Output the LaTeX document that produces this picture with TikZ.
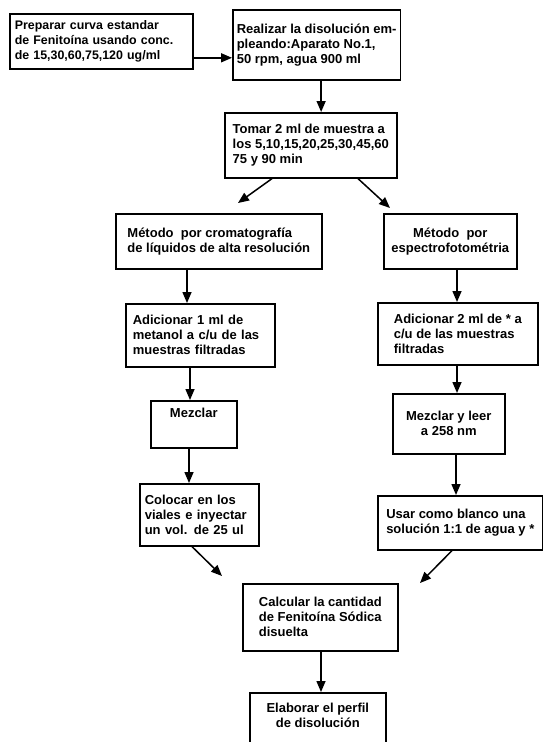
\documentclass[tikz,border=0pt]{standalone}
\usepackage{fontspec}
\setmainfont{Liberation Sans}
\usetikzlibrary{arrows.meta}
\begin{document}
\begin{tikzpicture}[x=1pt,y=-1pt,
  box/.style={draw, line width=1.6pt, anchor=north west, inner xsep=4pt, inner ysep=3pt,
              font=\fontsize{13}{15}\selectfont\bfseries, align=left},
  flow/.style={line width=1.5pt, -{Triangle[length=11pt,width=9pt]}}]
\useasboundingbox (0,0) rectangle (543,742);

% top row and sampling step
\node[box, font=\fontsize{12.4}{15}\selectfont\bfseries, inner xsep=5pt, text width=173pt,
      minimum height=55pt] (prep) at (9,13)
  {Preparar curva estandar\\de Fenitoína usando conc.\\de 15,30,60,75,120 ug/ml};
\node[box, minimum width=163pt, minimum height=70pt] (real) at (232,9)
  {Realizar la disolución em-\\pleando:Aparato No.1,\\50 rpm, agua 900 ml};
\node[box, minimum width=172pt, minimum height=65pt] (toma) at (224,112)
  {Tomar 2 ml de muestra a\\los 5,10,15,20,25,30,45,60\\75 y 90 min};

% HPLC branch
\node[box, minimum width=206pt, minimum height=55pt] (metc) at (115,213)
  {Método\ \ por cromatografía\\de líquidos de alta resolución};
\node[box, inner xsep=7pt, text width=135pt, minimum height=63pt] (adi1) at (125,303)
  {Adicionar 1 ml de\\metanol a c/u de las\\muestras filtradas};
\node[box, align=center, minimum width=86pt, minimum height=47pt,
      text height=14pt, text depth=27pt] (mez) at (150,400) {Mezclar};
\node[box, inner xsep=5pt, text width=109pt, minimum height=62pt] (col) at (139,483)
  {Colocar en los\\viales e inyectar\\un vol. de 25 ul};

% spectrophotometry branch
\node[box, align=center, minimum width=133pt, minimum height=55pt] (mete) at (383,213)
  {Método\ \ por\\espectrofotométria};
\node[box, minimum width=160pt, minimum height=62pt] (adi2) at (377,302)
  {Adicionar 2 ml de * a\\c/u de las muestras\\filtradas};
\node[box, align=center, minimum width=112pt, minimum height=60pt] (mzl) at (392,393)
  {Mezclar y leer\\a 258 nm};
\node[box, minimum width=165pt, minimum height=54pt] (usar) at (377,495)
  {Usar como blanco una\\solución 1:1 de agua y *};

% final steps (the last box runs off the lower edge)
\node[box, minimum width=155pt, minimum height=67pt] (calc) at (242,583)
  {Calcular la cantidad\\de Fenitoína Sódica\\disuelta};
\node[box, align=center, minimum width=136pt, minimum height=60pt] (elab) at (249,692)
  {Elaborar el perfil\\de disolución\\\mbox{}};

% free ends of the slanted arrows
\coordinate (tl) at (238,203);
\coordinate (tr) at (390,208);
\coordinate (cl) at (222,576);
\coordinate (cr) at (420,583);

% connectors
\draw[flow] ([yshift=-16.5pt]prep.east) -- ([yshift=-16.5pt]prep.east -| real.west);
\draw[flow] ([xshift=4.5pt]real.south) -- ([xshift=4.5pt]real.south |- toma.north);
\draw[flow] ([xshift=48pt]toma.south west) -- (tl);
\draw[flow] ([xshift=134pt]toma.south west) -- (tr);

\draw[flow] ([xshift=72pt]metc.south west) -- ([xshift=72pt]metc.south west |- adi1.north);
\draw[flow] ([xshift=65pt]adi1.south west) -- ([xshift=65pt]adi1.south west |- mez.north);
\draw[flow] ([xshift=39pt]mez.south west) -- ([xshift=39pt]mez.south west |- col.north);
\draw[flow] ([xshift=53pt]col.south west) -- (cl);

\draw[flow] ([xshift=74pt]mete.south west) -- ([xshift=74pt]mete.south west |- adi2.north);
\draw[flow] ([xshift=80pt]adi2.south west) -- ([xshift=80pt]adi2.south west |- mzl.north);
\draw[flow] ([xshift=64pt]mzl.south west) -- ([xshift=64pt]mzl.south west |- usar.north);
\draw[flow] ([xshift=75pt]usar.south west) -- (cr);

\draw[flow] ([xshift=79pt]calc.south west) -- ([xshift=79pt]calc.south west |- elab.north);
\end{tikzpicture}
\end{document}
